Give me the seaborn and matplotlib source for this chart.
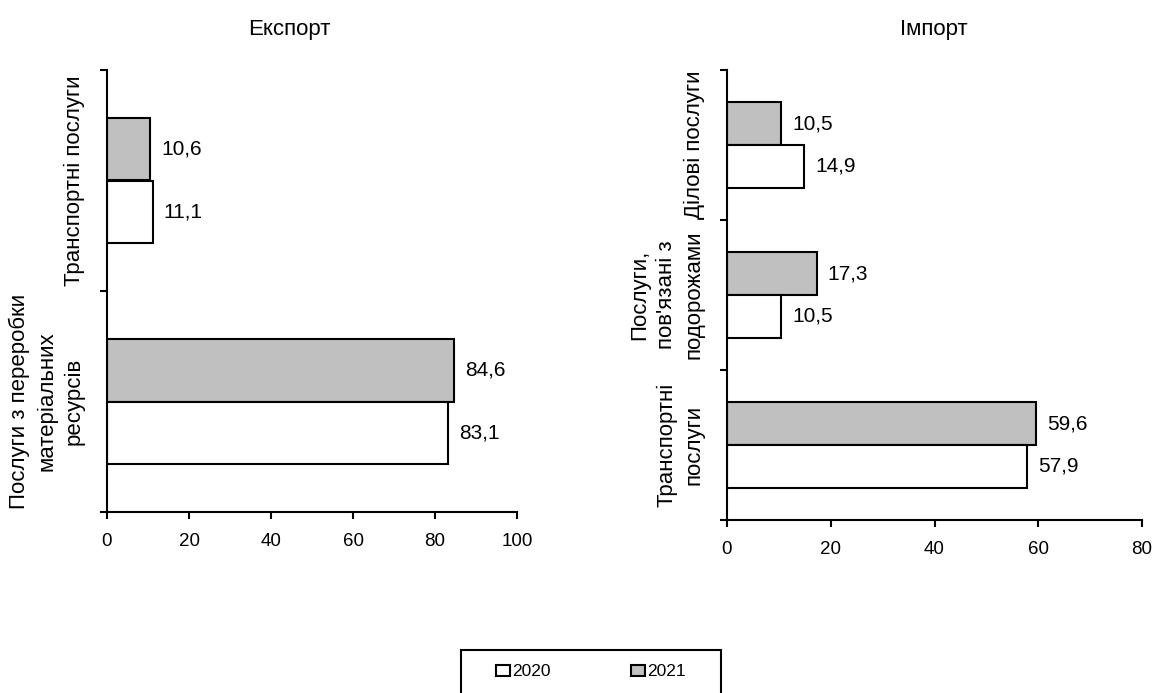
import matplotlib
matplotlib.use("Agg")
import matplotlib.pyplot as plt
from matplotlib.patches import Rectangle, Patch
import seaborn as sns
import pandas as pd
import numpy as np

# ---- data ----
export_categories = ["Транспортні послуги", "Послуги з переробки\nматеріальних\nресурсів"]
export_2020 = [11.1, 83.1]
export_2021 = [10.6, 84.6]

import_categories = ["Ділові послуги", "Послуги,\nпов'язані з\nподорожами", "Транспортні\nпослуги"]
import_2020 = [14.9, 10.5, 57.9]
import_2021 = [10.5, 17.3, 59.6]

years = ["2020", "2021"]
titles = ["Експорт", "Імпорт"]
export_ticks = [0, 20, 40, 60, 80, 100]
import_ticks = [0, 20, 40, 60, 80]

sns.set_theme(style="white")
plt.rcParams["font.family"] = ["Liberation Sans", "DejaVu Sans"]
plt.rcParams["text.color"] = "black"
plt.rcParams["xtick.color"] = "black"
plt.rcParams["ytick.color"] = "black"

colors = {"2020": "#FFFFFF", "2021": "#C0C0C0"}

fig = plt.figure(figsize=(11.58, 6.93), dpi=100)
W, H = 1158, 693
ax1 = fig.add_axes([107 / W, 1 - 512 / H, (517 - 107) / W, (512 - 70) / H])
ax2 = fig.add_axes([727 / W, 1 - 520 / H, (1142 - 727) / W, (520 - 70) / H])


def make_df(cats, v2020, v2021):
    rows = []
    for c, a, b in zip(cats, v2020, v2021):
        rows.append({"cat": c, "year": "2020", "value": a})
        rows.append({"cat": c, "year": "2021", "value": b})
    return pd.DataFrame(rows)


def draw(ax, cats, v2020, v2021, ticks):
    df = make_df(cats, v2020, v2021)
    sns.barplot(data=df, y="cat", x="value", hue="year", order=cats,
                hue_order=["2021", "2020"], palette=colors, orient="h",
                width=0.57, edgecolor="black", linewidth=1.5, ax=ax,
                legend=False, saturation=1)
    for cont in ax.containers:
        vals = cont.datavalues
        ax.bar_label(cont, labels=[f"{v:.1f}".replace(".", ",") for v in vals],
                     padding=8, fontsize=15, color="black")
    n = len(cats)
    ax.set_ylim(n - 0.5, -0.5)
    ax.set_xlim(ticks[0], ticks[-1])
    ax.set_xticks(ticks)
    ax.set_xticklabels([str(t) for t in ticks], fontsize=13.5)
    ax.set_yticks(np.arange(n + 1) - 0.5)
    ax.set_yticklabels([])
    ax.set_yticks(np.arange(n), minor=True)
    ax.set_yticklabels(cats, minor=True, rotation=90, va="center", ha="right",
                       fontsize=16, multialignment="center", linespacing=1.4)
    ax.tick_params(axis="y", which="minor", length=0, pad=16)
    ax.tick_params(axis="y", which="major", length=5, width=1.5, direction="out", left=True)
    ax.tick_params(axis="x", which="major", length=5, width=1.5, direction="out",
                   bottom=True, pad=10, colors="black")
    for s in ["top", "right"]:
        ax.spines[s].set_visible(False)
    for s in ["left", "bottom"]:
        ax.spines[s].set_color("black")
        ax.spines[s].set_linewidth(1.5)
    ax.set_xlabel("")
    ax.set_ylabel("")


draw(ax1, export_categories, export_2020, export_2021, export_ticks)
draw(ax2, import_categories, import_2020, import_2021, import_ticks)

fig.text(289 / W, 1 - 30 / H, titles[0], ha="center", va="center", fontsize=16, color="black")
fig.text(934 / W, 1 - 30 / H, titles[1], ha="center", va="center", fontsize=16, color="black")

# legend box
fig.patches.append(Rectangle((461 / W, -0.02), (721 - 461) / W, (0.02 + 1 - 650 / H),
                             transform=fig.transFigure, facecolor="white",
                             edgecolor="black", linewidth=1.5))
handles = [Patch(facecolor=colors[y], edgecolor="black", linewidth=1.5, label=y) for y in years]
fig.legend(handles=handles, loc="center", bbox_to_anchor=(591 / W, 1 - 672 / H), ncol=2,
           frameon=False, fontsize=12.5, handlelength=0.8, handleheight=0.65,
           handletextpad=0.15, columnspacing=4.6)

fig.savefig("out.png", dpi=100)
